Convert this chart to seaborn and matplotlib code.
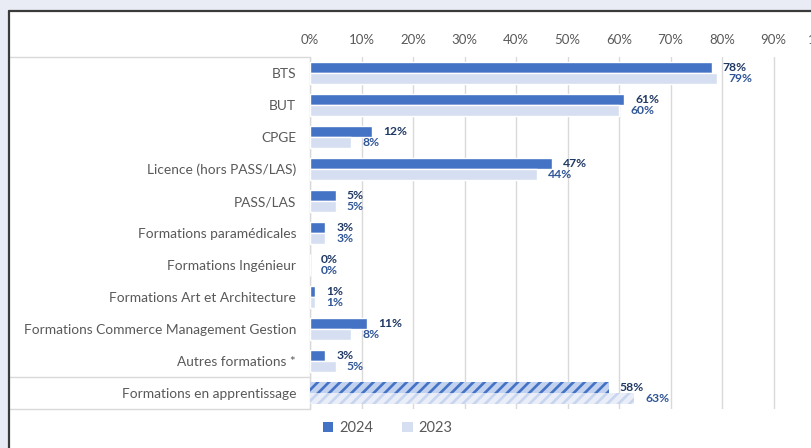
import matplotlib
matplotlib.use("Agg")
import matplotlib.pyplot as plt
import matplotlib.transforms as mtransforms
from matplotlib.patches import Rectangle, Patch
from matplotlib.lines import Line2D
import seaborn as sns
import pandas as pd

categories = ["BTS", "BUT", "CPGE", "Licence (hors PASS/LAS)", "PASS/LAS",
              "Formations paramédicales", "Formations Ingénieur",
              "Formations Art et Architecture",
              "Formations Commerce Management Gestion",
              "Autres formations *", "Formations en apprentissage"]
values_2024 = [78, 61, 12, 47, 5, 3, 0, 1, 11, 3, 58]
values_2023 = [79, 60, 8, 44, 5, 3, 0, 1, 8, 5, 63]
years = ["2024", "2023"]
x_ticks = [0, 10, 20, 30, 40, 50, 60, 70, 80, 90, 100]

sns.set_theme(style="white")
plt.rcParams["font.family"] = ["Lato", "DejaVu Sans"]
plt.rcParams["hatch.linewidth"] = 1.9

df = pd.DataFrame({
    "cat": categories * 2,
    "val": values_2024 + values_2023,
    "year": [years[0]] * len(categories) + [years[1]] * len(categories),
})

W, H = 811, 448
fig = plt.figure(figsize=(W / 100, H / 100), dpi=100)
fig.patch.set_facecolor("#E9ECF5")

# white panel with dark top/left border
fig.add_artist(Rectangle((9 / W, 0), 1, 1 - 11 / H, transform=fig.transFigure,
                         facecolor="white", edgecolor="none", zorder=0))
fig.add_artist(Line2D([9 / W, 9 / W], [0, 1 - 11 / H], transform=fig.transFigure,
                      color="#3A3A3A", lw=1.6))
fig.add_artist(Line2D([9 / W, 1], [1 - 11 / H, 1 - 11 / H], transform=fig.transFigure,
                      color="#3A3A3A", lw=1.6))

ax = fig.add_axes([310 / W, 1 - 409 / H, 515 / W, 352 / H])
ax.set_facecolor("none")

c24 = "#4472C4"
c23 = "#D5DFF1"
sns.barplot(data=df, y="cat", x="val", hue="year", hue_order=years,
            palette=[c24, c23], width=0.66, orient="h", saturation=1,
            legend=False, ax=ax, zorder=3)

ax.set_xlim(0, 100)
ax.set_ylim(len(categories) - 0.5, -0.5)
ax.set_xticks(x_ticks)
ax.set_xticklabels([f"{t}%" for t in x_ticks])
ax.xaxis.tick_top()
ax.tick_params(axis="x", length=0, pad=8, labelsize=9.5, labelcolor="#595959")
ax.tick_params(axis="y", length=0, pad=10, labelsize=9.9, labelcolor="#595959")
ax.set_xlabel("")
ax.set_ylabel("")
for s in ax.spines.values():
    s.set_visible(False)
ax.grid(axis="x", color="#D9D9D9", lw=1, zorder=0)
ax.set_axisbelow(True)

# hatch the apprenticeship bars
last = len(categories) - 1
b24 = ax.containers[0][last]
b23 = ax.containers[1][last]
b24.set_facecolor("#C3D2EE")
b24.set_edgecolor(c24)
b24.set_hatch("///")
b24.set_linewidth(0)
b23.set_facecolor("#E9EEF8")
b23.set_edgecolor("#C8D5EE")
b23.set_hatch("///")
b23.set_linewidth(0)

ax.bar_label(ax.containers[0], labels=[f"{v}%" for v in values_2024], padding=8,
             fontsize=8.7, fontweight="bold", color="#1F3864")
ax.bar_label(ax.containers[1], labels=[f"{v}%" for v in values_2023], padding=8,
             fontsize=8.7, fontweight="bold", color="#2F5597")

# category table lines
trans = mtransforms.blended_transform_factory(fig.transFigure, ax.transData)
x0, x1 = 10 / W, 310 / W
for yv in [-0.5, last - 0.5, last + 0.5]:
    ax.add_line(Line2D([x0, x1], [yv, yv], transform=trans, color="#D9D9D9",
                       lw=1, clip_on=False))
ax.add_line(Line2D([x1, x1], [-0.5, last + 0.5], transform=trans, color="#D9D9D9",
                   lw=1, clip_on=False))

handles = [Patch(facecolor=c24, edgecolor="none", label=years[0]),
           Patch(facecolor=c23, edgecolor="none", label=years[1])]
fig.legend(handles=handles, loc="center left", bbox_to_anchor=(310 / W, 1 - 428 / H),
           ncol=2, frameon=False, fontsize=10.5, handlelength=0.7, handleheight=0.7,
           handletextpad=0.4, columnspacing=2.0, labelcolor="#595959")

fig.savefig("out.png", dpi=100, facecolor=fig.get_facecolor())
